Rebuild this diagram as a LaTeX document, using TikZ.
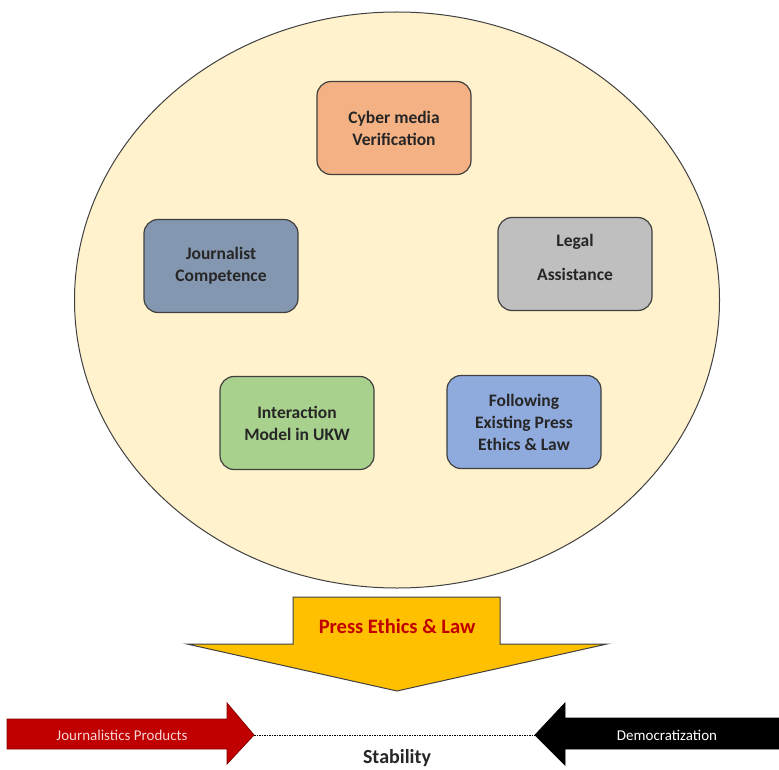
\documentclass[tikz,border=0pt]{standalone}
\usepackage{fontspec}
\setmainfont{Carlito}
\usetikzlibrary{shapes.geometric}
\definecolor{cream}{HTML}{FFF2CC}
\definecolor{orangebox}{HTML}{F4B183}
\definecolor{slatebox}{HTML}{8497B0}
\definecolor{graybox}{HTML}{BFBFBF}
\definecolor{greenbox}{HTML}{A9D18E}
\definecolor{bluebox}{HTML}{8FAADC}
\definecolor{gold}{HTML}{FFC000}
\definecolor{darkred}{HTML}{C00000}
\definecolor{edge}{HTML}{404040}
\definecolor{pinktext}{HTML}{F6D4D4}
\tikzset{
  box/.style={draw=edge, line width=1.2pt, rounded corners=14pt, minimum width=154pt, minimum height=93pt, align=center, font=\bfseries\fontsize{17.5}{22}\selectfont, text=black!85},
}
\begin{document}
\begin{tikzpicture}[x=1pt,y=-1pt]
\useasboundingbox (0,0) rectangle (779,770);
\fill[white] (0,0) rectangle (779,770);
% big circle
\node (circ) [draw=edge, line width=1pt, fill=cream, ellipse, minimum width=645pt, minimum height=576pt, inner sep=0pt] at (397,300) {};
% boxes
\node (cyber) [box, fill=orangebox] at (394,128) {Cyber media\\Verification};
\node (journ) [box, fill=slatebox] at (221,266) {Journalist\\Competence};
\node (legal) [box, fill=graybox] at (575,264) {Legal\\[12pt]Assistance\rule[-13pt]{0pt}{1pt}};
\node (inter) [box, fill=greenbox] at (297,423) {Interaction\\Model in UKW};
\node (follow) [box, fill=bluebox] at (524,422) {Following\\Existing Press\\Ethics \& Law};
% big down arrow
\draw[draw=edge, line width=1pt, fill=gold, line join=miter]
  (293,597) -- (500,597) -- (500,644) -- (607,644) -- (397,691) -- (187,644) -- (293,644) -- cycle;
\node (pel) [font=\bfseries\fontsize{20.5}{24}\selectfont, text=darkred] at (397,626) {Press Ethics \& Law};
% bottom arrows
\draw[draw=darkred!70!black, line width=0.8pt, fill=darkred]
  (7,719) -- (227,719) -- (227,703) -- (254,735) -- (227,764) -- (227,749) -- (7,749) -- cycle;
\draw[draw=black, line width=0.8pt, fill=black]
  (779,718) -- (565,718) -- (565,703) -- (535,735) -- (565,765) -- (565,749) -- (779,749) -- cycle;
\coordinate (rtip) at (254,735);
\coordinate (btip) at (535,735);
\draw[dash pattern=on 1.5pt off 1pt, line width=0.8pt] (rtip) -- (btip);
\node (jp) [font=\fontsize{15}{18}\selectfont, text=pinktext] at (122,735) {Journalistics Products};
\node (dem) [font=\fontsize{15}{18}\selectfont, text=white] at (667,735) {Democratization};
\node (stab) [font=\bfseries\fontsize{20}{24}\selectfont, text=black!85] at (397,758) {Stability};
\end{tikzpicture}
\end{document}
